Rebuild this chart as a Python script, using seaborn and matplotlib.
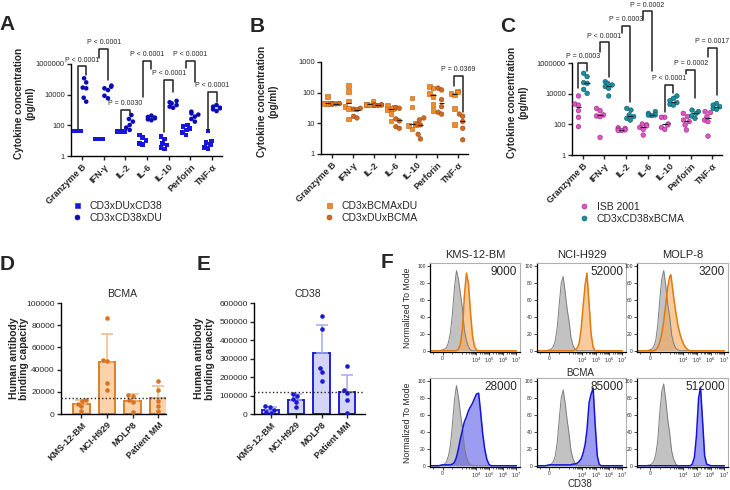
import numpy as np
import pandas as pd
import matplotlib
matplotlib.use("Agg")
import matplotlib.pyplot as plt
import seaborn as sns
from matplotlib.colors import to_rgba
from matplotlib.lines import Line2D
from matplotlib.markers import MarkerStyle
from matplotlib.ticker import FixedLocator, FuncFormatter, NullLocator

# ---------------- data ----------------
cytokines = ["Granzyme B", "IFN-γ", "IL-2", "IL-6", "IL-10", "Perforin", "TNF-α"]

# A (pg/ml, one list per cytokine)
a_names = ["CD3xDUxCD38", "CD3xCD38xDU"]
a_dux38 = [[43, 43, 43, 43, 43, 43], [13, 13, 13, 13, 13, 13], [39, 39, 39, 39, 39, 39],
           [23, 16, 11, 9.5, 6.8, 5.8], [18, 13, 6.8, 5.2, 3.5, 2.9],
           [105, 81, 63, 50, 35, 23], [43, 9.5, 7.8, 5.8, 3.5, 3.2]]
a_38xdu = [[117000, 63000, 29000, 26000, 6300, 3500], [39000, 33000, 26000, 20000, 8500, 5800],
           [470, 260, 175, 105, 71, 50], [430, 350, 320, 290, 245, 215],
           [3900, 3200, 2700, 2100, 1650, 1400], [780, 600, 500, 370, 260, 175],
           [2100, 1650, 1400, 1300, 1100, 850]]
a_pvals = ["P < 0.0001", "P < 0.0001", "P = 0.0030", "P < 0.0001", "P < 0.0001", "P < 0.0001", "P < 0.0001"]
# bracket: (top, end of left leg, end of right leg)
a_brackets = [(6.9e5, 50, 1.8e5), (9.8e6, 2.5e6, 9.3e4), (1000, 58, 560), (1.6e6, 7200, 5e5),
              (9.3e4, 37, 1.5e4), (1.6e6, 5.6e5, 6.9e4), (1.45e4, 58, 3400)]

# B
b_names = ["CD3xBCMAxDU", "CD3xDUxBCMA"]
b_bcmaxdu = [[76, 46, 46, 44, 44, 44], [174, 110, 54, 35, 30, 14], [51, 42, 42, 42, 40],
             [40, 33, 31, 28, 21, 12], [66, 34, 10, 8.9, 8.5, 6.6],
             [158, 141, 95, 76, 42, 26], [115, 105, 95, 85, 31, 9.3]]
b_duxbcma = [[44, 44, 44, 43, 44, 44], [31, 29, 28, 17, 15], [40, 40, 38, 40, 39],
             [33, 31, 14, 12, 7.8, 6.9], [15, 13, 9.3, 8.9, 4.4, 3.1],
             [141, 123, 59, 35, 23, 20], [20, 17, 11.5, 6.9, 2.9]]
b_pvals = [None, None, None, None, None, None, "P = 0.0369"]
b_brackets = [None, None, None, None, None, None, (360, 160, 24)]

# C
c_names = ["ISB 2001", "CD3xCD38xBCMA"]
c_isb = [[7100, 2100, 1800, 780, 290, 71], [1100, 780, 410, 350, 320, 14], [60, 55, 47, 43, 40, 39],
         [105, 91, 79, 63, 47, 20], [290, 290, 105, 91, 63, 47],
         [520, 320, 190, 150, 91, 43], [680, 580, 320, 190, 150, 17]]
c_tri = [[214000, 129000, 52000, 47000, 19000, 10500], [60000, 47000, 37000, 29000, 22000, 7100],
         [1100, 850, 410, 320, 245, 190], [680, 520, 410, 400, 370],
         [7100, 5000, 3500, 2600, 2000, 1800], [850, 680, 520, 350, 245],
         [2300, 1800, 1400, 1100, 950]]
c_pvals = ["P = 0.0003", "P < 0.0001", "P = 0.0003", "P = 0.0002", "P < 0.0001", "P = 0.0002", "P = 0.0017"]
c_brackets = [(1.07e6, 2.5e4, 3.2e5), (2.2e7, 5e6, 1.26e5), (2.5e8, 9.5e7, 2750), (2.3e9, 6e8, 3.2e5),
              (3.7e4, 630, 1.1e4), (3.6e5, 2e5, 5000), (1e7, 2.5e6, 8000)]

# D / E  antibody binding capacity
cell_lines = ["KMS-12-BM", "NCI-H929", "MOLP8", "Patient MM"]
d_bcma = [[12900, 11400, 9300, 6900, 2400], [86500, 49000, 47400, 28000, 22000],
          [17400, 16500, 12900, 10500, 1500], [29400, 22000, 11400, 6900, 2400]]
e_cd38 = [[41000, 38000, 23000, 9000, 5400], [110000, 95000, 81000, 63000, 38000],
          [528000, 459000, 249000, 225000, 180000], [258000, 131000, 113000, 77000, 5000]]

# F  flow histograms (% of mode at each fluorescence value)
flow_lines = ["KMS-12-BM", "NCI-H929", "MOLP-8"]
flow_grid = [-600, -400, -200, 0, 100, 200, 300, 400, 500, 600, 700, 800, 900, 1000, 1200, 1400,
             2000, 2800, 4000, 5600, 8000, 11000, 16000, 22000, 32000, 45000, 64000, 90000,
             130000, 180000, 250000, 360000, 500000, 1000000, 10000000]
kms_bcma_iso = [0, 0, 0, 1, 2, 4, 10, 22, 45, 75, 95, 85, 68, 50, 36, 25, 12, 5, 1] + [0] * 16
kms_bcma = [0] * 11 + [2, 8, 25, 45, 65, 92, 80, 45, 18, 5, 1] + [0] * 13
nci_bcma_iso = [0, 0, 0, 1, 2, 5, 12, 28, 55, 80, 88, 70, 50, 35, 25, 16, 6, 2, 0] + [0] * 16
nci_bcma = [0] * 17 + [1, 3, 8, 25, 50, 78, 92, 55, 20, 4] + [0] * 8
molp_bcma_iso = [0, 0, 0, 1, 2, 5, 12, 30, 60, 85, 95, 78, 55, 40, 28, 18, 8, 3, 1] + [0] * 16
molp_bcma = [0] * 6 + [1, 4, 10, 20, 35, 55, 75, 88, 90, 82, 62, 45, 30, 20, 12, 7, 3, 1] + [0] * 11
kms_cd38_iso = [0, 0, 0, 1, 2, 5, 12, 25, 50, 78, 95, 82, 62, 45, 32, 22, 10, 4, 1] + [0] * 16
kms_cd38 = [0, 0, 0, 1, 1, 1, 1, 1, 2, 4, 10, 20, 32, 42, 48, 52, 58, 65, 70, 74, 80, 85, 86, 65,
            38, 20, 8, 2] + [0] * 7
nci_cd38_iso = [0, 0, 0, 1, 2, 5, 12, 28, 55, 80, 90, 75, 55, 38, 27, 18, 8, 3, 1] + [0] * 16
nci_cd38 = [0, 0, 0] + [1] * 13 + [2, 2, 3, 5, 8, 14, 25, 42, 75, 85, 92, 50, 12, 2] + [0] * 5
molp_cd38_iso = [0, 0, 0, 1, 2, 5, 13, 30, 62, 88, 97, 78, 55, 38, 26, 17, 7, 2, 0] + [0] * 16
molp_cd38 = [0] * 25 + [2, 10, 35, 80, 93, 55, 12, 2, 0, 0]
bcma_abc = ["9000", "52000", "3200"]
cd38_abc = ["28000", "85000", "512000"]

# ---------------- style ----------------
sns.set_theme(style="ticks")
plt.rcParams["font.family"] = ["Liberation Sans", "DejaVu Sans"]
plt.rcParams["axes.linewidth"] = 1.0
plt.rcParams["axes.edgecolor"] = "black"

W, H = 730, 490
fig = plt.figure(figsize=(W / 100, H / 100), dpi=100)


def px(l, t, r, b):
    return [l / W, 1 - b / H, (r - l) / W, (b - t) / H]


def long_table(names, groups):
    # side-by-side slots: first group left of the tick, second group right of it
    rows = []
    for j, (name, series) in enumerate(zip(names, groups)):
        for i, vals in enumerate(series):
            rows += [(i - 0.2 + 0.4 * j, name, v) for v in vals]
    return pd.DataFrame(rows, columns=["pos", "group", "value"])


def marker_path(m):
    ms = MarkerStyle(m)
    return ms.get_path().transformed(ms.get_transform())


def cytokine_panel(rect, names, groups, markers, colors, edges, pvals, brackets,
                   medians, ylim, yticks, label_x, legend_xy):
    ax = fig.add_axes(px(*rect))
    ax.set_yscale("log")
    df = long_table(names, groups)
    sns.swarmplot(data=df, x="pos", y="value", hue="group", hue_order=names,
                  native_scale=True, orient="x", palette=dict(zip(names, colors)),
                  size=3.3, linewidth=0, legend=False, warn_thresh=1, ax=ax)
    # per-group marker shape and outline
    for coll in ax.collections:
        fc = coll.get_facecolor()
        if len(fc) == 0:
            continue
        for j, col in enumerate(colors):
            if np.allclose(fc[0][:3], to_rgba(col)[:3], atol=0.02):
                if markers[j] != "o":
                    coll.set_paths([marker_path(markers[j])])
                if edges[j]:
                    coll.set_edgecolor(edges[j])
                    coll.set_linewidth(0.4)
    if medians:
        for j, series in enumerate(groups):
            off = -0.2 + 0.4 * j
            for i, vals in enumerate(series):
                ax.hlines(np.median(vals), i + off - 0.13, i + off + 0.13,
                          color="#222222", lw=0.8, zorder=5)
    for i, (p, br) in enumerate(zip(pvals, brackets)):
        if br is None:
            continue
        top, lo_l, lo_r = br
        ax.plot([i - 0.2, i - 0.2, i + 0.2, i + 0.2], [lo_l, top, top, lo_r],
                color="#222222", lw=1.1, clip_on=False, zorder=6)
        ax.annotate(p, (i, top), xytext=(0, 2), textcoords="offset points",
                    ha="center", va="bottom", fontsize=5, annotation_clip=False)
    ax.set_ylim(*ylim)
    ax.yaxis.set_major_locator(FixedLocator(yticks))
    ax.yaxis.set_minor_locator(NullLocator())
    ax.yaxis.set_major_formatter(FuncFormatter(lambda v, _: f"{v:.0f}"))
    ax.set_xlim(-0.5, 6.45)
    ax.set_xticks(range(len(cytokines)))
    ax.set_xticklabels(cytokines, rotation=45, ha="right", rotation_mode="anchor",
                       fontweight="bold", fontsize=6.5)
    ax.xaxis.set_minor_locator(NullLocator())
    ax.tick_params(axis="both", length=3, width=1, pad=1.5, labelsize=5.4)
    ax.tick_params(axis="x", labelsize=6.5)
    ax.set_xlabel("")
    ax.set_ylabel("Cytokine concentration\n(pg/ml)", fontweight="bold", fontsize=7.2,
                  linespacing=1.15)
    ax.yaxis.set_label_coords(label_x, 0.57)
    sns.despine(ax=ax)
    handles = [Line2D([], [], ls="", marker=m, color=c, markeredgecolor=ec if ec else c,
                      markeredgewidth=0.4, markersize=3.6)
               for m, c, ec in zip(markers, colors, edges)]
    fig.legend(handles, names, loc="upper left", bbox_to_anchor=legend_xy, frameon=False,
               fontsize=7.5, handlelength=1.0, handletextpad=0.7, labelspacing=0.2,
               borderpad=0, borderaxespad=0)
    return ax


def bar_panel(rect, vals, title, title_x, face, edge, dot, err, ymax, ystep, xlim, label_x):
    ax = fig.add_axes(px(*rect))
    df = pd.DataFrame([(c, v) for c, vs in zip(cell_lines, vals) for v in vs],
                      columns=["line", "hab"])
    sns.barplot(data=df, x="line", y="hab", errorbar=None, color=face, edgecolor=edge,
                linewidth=1.4, width=0.65, saturation=1, ax=ax)
    means = df.groupby("line", sort=False)["hab"].mean()
    sds = df.groupby("line", sort=False)["hab"].std()
    ax.errorbar(range(len(cell_lines)), means, yerr=[np.zeros(len(sds)), sds], fmt="none",
                ecolor=err, elinewidth=1.1, capsize=4, capthick=1.1, zorder=3)
    sns.swarmplot(data=df, x="line", y="hab", color=dot, size=3.3, ax=ax, zorder=4,
                  warn_thresh=1)
    ax.axhline(np.mean(vals[-1]), color="#222222", ls=":", lw=1.0, zorder=5)
    ax.set_ylim(0, ymax)
    ax.set_xlim(*xlim)
    ax.yaxis.set_major_locator(FixedLocator(np.arange(0, ymax + 1, ystep)))
    ax.yaxis.set_major_formatter(FuncFormatter(lambda v, _: f"{v:.0f}"))
    ax.set_xticks(range(len(cell_lines)))
    ax.set_xticklabels(cell_lines, rotation=45, ha="right", rotation_mode="anchor",
                       fontweight="bold", fontsize=6.5)
    ax.tick_params(axis="both", length=3, width=1, pad=1.5, labelsize=6)
    ax.tick_params(axis="x", labelsize=6.5)
    ax.set_xlabel("")
    ax.set_ylabel("Human antibody\nbinding capacity", fontweight="bold", fontsize=7.5,
                  linespacing=1.1)
    ax.yaxis.set_label_coords(label_x, 0.5)
    sns.despine(ax=ax)
    fig.text(title_x / W, 1 - 294 / H, title, ha="center", va="center", fontsize=7.5)
    return ax


def hist_panel(rect, iso, stain, line, fill, abc, ylabel):
    ax = fig.add_axes(px(*rect))
    ax.set_xscale("symlog", linthresh=1000, linscale=1.32)
    ax.fill_between(flow_grid, iso, color="#b8b8b8", alpha=0.85, lw=0)
    sns.lineplot(x=flow_grid, y=iso, color="#7d7d7d", lw=0.7, ax=ax)
    ax.fill_between(flow_grid, stain, color=fill, alpha=0.6, lw=0)
    sns.lineplot(x=flow_grid, y=stain, color=line, lw=1.1, ax=ax)
    ax.set_xlim(-635, 1.85e7)
    ax.set_ylim(-1.5, 104)
    ax.set_xticks([0, 1e4, 1e5, 1e6, 1e7])
    ax.set_xticklabels(["0", "$10^4$", "$10^5$", "$10^6$", "$10^7$"])
    minor = [-500, 500] + [m * 10 ** e for e in range(3, 7) for m in range(1, 10)]
    ax.xaxis.set_minor_locator(FixedLocator(minor))
    ax.set_yticks([0, 20, 40, 60, 80, 100])
    ax.tick_params(axis="both", which="major", length=2, width=0.6, pad=1, labelsize=3.6)
    ax.tick_params(axis="x", which="minor", length=1.2, width=0.5)
    for side in ["top", "right"]:
        ax.spines[side].set_color("#b0b0b0")
        ax.spines[side].set_linewidth(0.8)
    for side in ["left", "bottom"]:
        ax.spines[side].set_linewidth(0.9)
    ax.text(0.97, 0.965, abc, transform=ax.transAxes, ha="right", va="top", fontsize=8.5)
    ax.set_xlabel("")
    if ylabel:
        ax.set_ylabel("Normalized To Mode", fontsize=6.3)
        ax.yaxis.set_label_coords(-0.2, 0.5)
    else:
        ax.set_ylabel("")
    return ax


# ---------------- panels A-C ----------------
cytokine_panel((71, 64, 222, 156), a_names, [a_dux38, a_38xdu], ["s", "o"],
               ["#1616dc", "#0a0ab8"], [None, None], a_pvals, a_brackets, False,
               (1, 1e6), [1, 100, 1e4, 1e6], -0.235, (72 / W, 1 - 201 / H))
cytokine_panel((321, 62, 468, 154), b_names, [b_bcmaxdu, b_duxbcma], ["s", "o"],
               ["#f28c28", "#d2691e"], ["#b85a10", "#9a4a10"], b_pvals, b_brackets, True,
               (1, 1000), [1, 10, 100, 1000], -0.29, (324 / W, 1 - 201 / H))
cytokine_panel((572, 63, 722, 155), c_names, [c_isb, c_tri], ["o", "o"],
               ["#e452c6", "#1b8fa0"], ["#8a2a78", "#0e5560"], c_pvals, c_brackets, True,
               (1, 1e6), [1, 100, 1e4, 1e6], -0.29, (579 / W, 1 - 202 / H))

# ---------------- panels D-E ----------------
bar_panel((61, 303, 166, 414), d_bcma, "BCMA", 122, "#fcd2aa", "#dd7f27", "#d9731c",
          "#f0b98a", 100000, 20000, (-0.8, 3.3), -0.3)
bar_panel((254, 303, 365, 414), e_cd38, "CD38", 308, "#d4d4f8", "#2020d8", "#1a1acc",
          "#a8a8f0", 600000, 100000, (-0.65, 3.7), -0.35)

# ---------------- panel F ----------------
cols = [(430, 520), (537, 626), (637, 728)]
bcma_iso = [kms_bcma_iso, nci_bcma_iso, molp_bcma_iso]
bcma_stain = [kms_bcma, nci_bcma, molp_bcma]
cd38_iso = [kms_cd38_iso, nci_cd38_iso, molp_cd38_iso]
cd38_stain = [kms_cd38, nci_cd38, molp_cd38]
for k, (l, r) in enumerate(cols):
    hist_panel((l, 263, r, 352), bcma_iso[k], bcma_stain[k], "#e2780e", "#f5a75a",
               bcma_abc[k], k == 0)
    hist_panel((l, 378, r, 467), cd38_iso[k], cd38_stain[k], "#1414d8", "#5a5ae6",
               cd38_abc[k], k == 0)
    fig.text((l + r) / 2 / W, 1 - 255 / H, flow_lines[k], ha="center", va="center", fontsize=8)
fig.text(580 / W, 1 - 373 / H, "BCMA", ha="center", va="center", fontsize=7)
fig.text(580 / W, 1 - 484 / H, "CD38", ha="center", va="center", fontsize=7)

# panel letters
for letter, (x, y) in zip("ABCDEF", [(7, 24), (257, 27), (508, 26), (7, 264), (204, 264), (387, 263)]):
    fig.text(x / W, 1 - y / H, letter, ha="center", va="center", fontsize=15, fontweight="bold")

fig.savefig("out.png", dpi=100)
